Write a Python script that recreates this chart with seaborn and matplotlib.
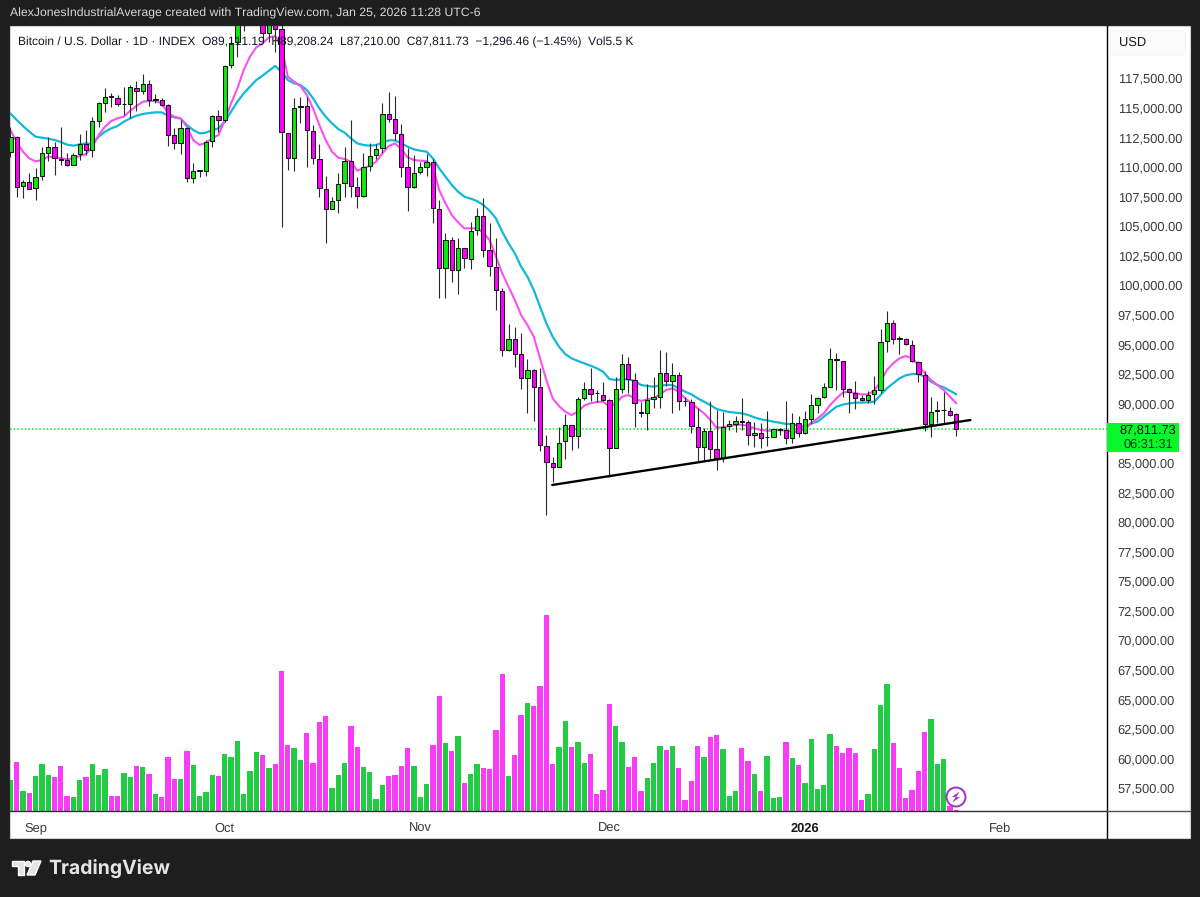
import seaborn as sns
import matplotlib.pyplot as plt
import matplotlib.patches as mpatches
from matplotlib.lines import Line2D
import numpy as np
import pandas as pd

# daily candles (bar 0 is 28 Aug 2025)
opens = [
    111220, 112490, 108340, 108680, 108180, 109190, 111190, 111700, 110650, 110570,
    110180, 111050, 111920, 111410, 113870, 115420, 115950, 115810, 115270, 115300,
    116680, 116400, 116990, 115670, 115640, 115190, 112650, 111980, 113270, 109020,
    109640, 109640, 112150, 114290, 113950, 118570, 120570, 122200, 122400, 123500,
    124700, 121330, 123300, 121610, 112880, 110710, 115050, 115160, 113020, 110680,
    108120, 106430, 107190, 108630, 110490, 108290, 107530, 110040, 110960, 111560,
    114430, 114010, 112800, 109980, 108260, 109530, 110010, 110430, 106460, 101420,
    103780, 101250, 103160, 102230, 104630, 105870, 102940, 101560, 99530, 94490,
    95420, 94150, 92120, 92850, 91360, 86430, 84990, 84630, 86800, 88210, 87250,
    90430, 91190, 90910, 90710, 90260, 86260, 91220, 93330, 91980, 89280, 89160,
    90350, 90520, 92600, 91920, 92400, 90230, 90120, 88040, 86350, 87700, 86120,
    85390, 88070, 88260, 88520, 88430, 87360, 87470, 87140, 87190, 87780, 87760,
    87050, 88320, 87470, 88680, 89870, 90520, 91420, 93730, 93590, 91190, 90910,
    90490, 90290, 90770, 91110, 95250, 96800, 95530, 95420, 94970, 93500, 92430,
    88230, 89360, 89420, 89390, 89111.19,
]
highs = [
    113390, 112600, 108880, 109440, 109870, 111700, 112490, 112120, 113330, 111130,
    111130, 112770, 113110, 114230, 115500, 116630, 116260, 116060, 116710, 116910,
    117250, 117840, 117330, 116120, 115780, 115300, 113250, 113950, 113390, 110290,
    109700, 112260, 114370, 114800, 118600, 120710, 122800, 122800, 125400, 126200,
    125000, 124100, 123700, 121980, 112880, 115780, 115920, 115920, 113530, 111920,
    109250, 107420, 109440, 111640, 113950, 109110, 111190, 112040, 111920, 115360,
    116290, 115980, 113580, 111560, 110990, 110430, 111080, 110630, 107190, 104430,
    104090, 103950, 103160, 105300, 106490, 107330, 105220, 103950, 99730, 96680,
    96490, 95920, 93720, 92910, 92960, 87330, 85500, 88030, 89100, 88210, 90520,
    91780, 93020, 91140, 91840, 90350, 92210, 94150, 93950, 92600, 90120, 91640,
    92210, 94520, 94380, 93450, 92690, 90570, 90350, 89590, 87900, 90210, 89450,
    89300, 88600, 88970, 90430, 88600, 88460, 88380, 89390, 87870, 87950, 90230,
    89220, 88970, 89360, 90800, 90570, 91700, 94660, 94290, 93590, 91280, 91900,
    90710, 91080, 92320, 96320, 97810, 97050, 95700, 95500, 95360, 93590, 92770,
    90570, 90210, 90990, 89730, 89208.24,
]
lows = [
    110850, 107470, 107330, 108090, 107190, 108880, 110510, 109300, 110150, 110090,
    110150, 110570, 110990, 110850, 113390, 114650, 115080, 115130, 114370, 114090,
    114710, 116120, 115130, 115360, 115130, 111750, 111470, 111080, 108740, 108650,
    109110, 109220, 111700, 112960, 113810, 118320, 119300, 121500, 122200, 123100,
    120650, 120570, 119670, 104940, 109730, 109670, 113670, 109950, 110230, 107470,
    103530, 106400, 106120, 107470, 107420, 106490, 107470, 109670, 110660, 111190,
    113750, 112260, 109160, 106290, 108230, 109360, 109220, 105270, 98880, 98910,
    100230, 99220, 101420, 101360, 104230, 102400, 100770, 97890, 94030, 94430,
    93050, 91220, 89220, 88540, 85980, 80570, 83390, 84600, 85270, 86070, 86260,
    90290, 90210, 90150, 90230, 83810, 86210, 90850, 90850, 88040, 88880, 87760,
    89590, 89590, 91500, 89220, 89450, 89780, 87530, 85080, 85220, 85220, 84380,
    85080, 87760, 87560, 87760, 86490, 86290, 86210, 86400, 87140, 87330, 86570,
    86680, 87140, 87390, 88260, 89220, 90430, 91360, 91140, 90520, 89160, 89500,
    90230, 90010, 89920, 90850, 94380, 95020, 94150, 94940, 93470, 91840, 87700,
    87140, 88370, 88370, 88940, 87210.00,
]
closes = [
    112490, 108320, 108740, 108150, 109160, 111130, 111700, 110710, 110570, 110150,
    111020, 111920, 111410, 113840, 115360, 115920, 115890, 115300, 115330, 116710,
    116400, 116990, 115640, 115730, 115250, 112680, 111980, 113250, 109020, 109610,
    109700, 112090, 114290, 113950, 118510, 120490, 122200, 122400, 123500, 124700,
    121330, 123300, 121610, 112910, 110710, 114990, 115130, 113080, 110710, 108180,
    106430, 107130, 108570, 110490, 108350, 107530, 109980, 110940, 111530, 114430,
    114040, 112850, 110010, 108290, 109500, 109980, 110430, 106540, 101420, 103780,
    101270, 103160, 102260, 104600, 105870, 102960, 101580, 99610, 94510, 95420,
    94200, 92120, 92850, 91410, 86490, 85050, 84630, 86680, 88180, 87250, 90400,
    91190, 90830, 90850, 90290, 86260, 91190, 93330, 92070, 90070, 89190, 90290,
    90520, 92570, 91920, 92400, 90180, 90180, 88070, 86350, 87700, 86150, 85420,
    87980, 88230, 88540, 88460, 87330, 87470, 87110, 87190, 87840, 87840, 87050,
    88320, 87470, 88660, 89840, 90460, 91360, 93760, 93640, 91190, 90940, 90460,
    90320, 90740, 91110, 95220, 96800, 95470, 95470, 94990, 93560, 92490, 88230,
    89280, 89420, 89470, 88990, 87811.73,
]

# EMA lines over the candles, read bar by bar
ema_fast = [
    113105, 112119, 111274, 110710, 110457, 110569, 110851, 110795, 110738, 110626,
    110710, 110907, 111076, 111696, 112682, 113386, 113865, 114091, 114231, 114739,
    115133, 115499, 115555, 115555, 115358, 114513, 114231, 114091, 113386, 112260,
    111837, 112034, 112400, 112682, 113950, 115358, 116626, 118175, 119302, 120091,
    120429, 120936, 121049, 120147, 117612, 117190, 116824, 116063, 114936, 113528,
    112260, 111274, 110767, 110655, 110429, 109669, 109866, 110091, 110429, 111133,
    111753, 111978, 111471, 110795, 110570, 110514, 110485, 110007, 108035, 106908,
    105922, 105302, 104795, 104795, 104795, 104429, 103809, 102401, 100992, 99865,
    98739, 97471, 96626, 95640, 93809, 91978, 90428, 89781, 89302, 89023, 89304,
    89812, 90009, 90121, 90150, 89727, 90009, 90572, 90713, 90431, 90206, 90347,
    90431, 90769, 91135, 91276, 90995, 90431, 90009, 89586, 89164, 88600, 87952,
    87980, 88093, 88178, 88206, 88093, 87896, 87755, 87699, 87699, 87755, 87699,
    87614, 87614, 87811, 88318, 88741, 89163, 89867, 90431, 90910, 90994, 90853,
    90769, 90769, 91079, 91839, 92825, 93389, 93811, 94008, 93811, 93248, 92543,
    91980, 91558, 91135, 90572, 90008,
]
ema_slow = [
    114513, 113950, 113443, 112964, 112541, 112457, 112372, 112260, 112091, 111865,
    111781, 111893, 111978, 111922, 112541, 112964, 113246, 113443, 113809, 114091,
    114316, 114457, 114541, 114598, 114598, 114316, 114175, 114062, 113527, 113105,
    112823, 112879, 113105, 113246, 113809, 114654, 115499, 116203, 116767, 117330,
    117696, 118119, 118513, 118034, 117331, 117049, 116908, 116486, 115781, 114936,
    114232, 113669, 113190, 112880, 112401, 111978, 111838, 111781, 111838, 112035,
    112232, 112232, 111978, 111697, 111471, 111359, 111274, 110711, 109866, 109161,
    108457, 107894, 107471, 107302, 107105, 106767, 106288, 105640, 104513, 103527,
    102682, 101556, 100710, 99584, 98175, 96767, 95640, 94795, 94175, 93812, 93586,
    93389, 93192, 92967, 92685, 92065, 91981, 92037, 92037, 91896, 91558, 91474,
    91417, 91502, 91558, 91558, 91276, 90995, 90769, 90431, 90150, 89868, 89530,
    89389, 89276, 89220, 89164, 89023, 88825, 88657, 88572, 88459, 88375, 88262,
    88262, 88093, 88036, 88318, 88459, 88881, 89304, 89727, 89896, 90008, 90065,
    90065, 90093, 90149, 90712, 91276, 91698, 92121, 92375, 92487, 92487, 92262,
    91839, 91558, 91360, 91079, 90769,
]

# volume in thousands
volumes = [
    138, 219, 92, 83, 159, 212, 162, 153, 204, 68, 62, 140, 152, 210, 162, 190, 69, 68,
    172, 154, 201, 196, 165, 78, 63, 243, 142, 142, 270, 206, 66, 87, 162, 156, 258, 243,
    316, 78, 178, 266, 250, 192, 213, 632, 298, 284, 230, 350, 218, 400, 426, 105, 162,
    218, 381, 288, 200, 177, 52, 116, 156, 160, 201, 284, 201, 63, 120, 298, 518, 306,
    268, 338, 128, 166, 210, 194, 190, 363, 615, 159, 254, 430, 486, 471, 561, 882, 213,
    288, 406, 288, 312, 218, 255, 78, 96, 480, 381, 312, 198, 244, 90, 147, 218, 294,
    273, 291, 195, 51, 136, 292, 244, 333, 344, 278, 66, 90, 282, 224, 165, 90, 249, 58,
    63, 312, 240, 206, 124, 324, 99, 117, 348, 292, 260, 282, 260, 51, 75, 279, 477, 573,
    308, 195, 57, 93, 178, 354, 414, 213, 236, 21, 5.5,
]

# the 87,500 label is hidden behind the last price tag
price_ticks = [p for p in range(57500, 120000, 2500) if p != 87500]
month_bars = [4, 34, 65, 95, 126, 157]
month_labels = ["Sep", "Oct", "Nov", "Dec", "2026", "Feb"]
trend_bars = [85.93, 152.25]
trend_prices = [83110, 88600]
last_price = 87811.73

UP = "#10e810"
DOWN = "#ff00ff"
VOL_UP = "#22cc44"
VOL_DOWN = "#f83cf8"
DARK = "#1e1e1e"
TXT = "#3a3a3a"

W, H = 1200, 897


def px_box(x0, y0, x1, y1):
    # pixel box (y from the top) to figure fractions
    return [x0 / W, 1 - y1 / H, (x1 - x0) / W, (y1 - y0) / H]


df = pd.DataFrame({"open": opens, "high": highs, "low": lows, "close": closes,
                   "volume": volumes, "fast": ema_fast, "slow": ema_slow})
df["bar"] = np.arange(len(df))
df["side"] = np.where(df["close"] >= df["open"], "up", "down")

sns.set_theme(style="white")
plt.rcParams["font.family"] = ["Liberation Sans", "DejaVu Sans"]
plt.rcParams["text.hinting"] = "no_hinting"
plt.rcParams["text.kerning_factor"] = 6

fig = plt.figure(figsize=(W / 100, H / 100), dpi=100, facecolor=DARK)

# white panel behind everything
fig.patches.append(mpatches.Rectangle((10 / W, 1 - 838 / H), 1180 / W, 812 / H, transform=fig.transFigure,
                                      facecolor="white", edgecolor="#d0d0d0", lw=0.8, zorder=-1))

xlim = (-0.06, 173.83)
ylim = (55561, 121894)

ax_vol = fig.add_axes(px_box(10, 26, 1106.5, 811), facecolor="none")
sns.barplot(data=df, x="bar", y="volume", hue="side", palette={"up": VOL_UP, "down": VOL_DOWN},
            hue_order=["up", "down"], dodge=False, native_scale=True, width=0.84, saturation=1,
            errorbar=None, legend=False, ax=ax_vol)
# seaborn leaves these too thin on the numeric scale
for rect in ax_vol.patches:
    mid = rect.get_x() + rect.get_width() / 2
    rect.set_width(0.84)
    rect.set_x(mid - 0.42)
    rect.set_linewidth(0)
ax_vol.set_xlim(*xlim)
ax_vol.set_ylim(0, 3532)
ax_vol.axis("off")

ax = fig.add_axes(px_box(10, 26, 1106.5, 811), facecolor="none")
sns.lineplot(data=df, x="bar", y="slow", color="#12b8d8", lw=1.6, ax=ax, zorder=2)
sns.lineplot(data=df, x="bar", y="fast", color="#fb50f0", lw=1.5, ax=ax, zorder=2.1)

ax.vlines(df["bar"], df["low"], df["high"], color="#2a2a2a", lw=0.8, zorder=3)
body_bottom = df[["open", "close"]].min(axis=1)
body_height = (df["close"] - df["open"]).abs()
ax.bar(df["bar"], body_height, bottom=body_bottom, width=0.68,
       color=df["side"].map({"up": UP, "down": DOWN}), edgecolor="#161616", lw=0.75, zorder=4)

ax.axhline(last_price, color="#00ec20", lw=1.1, ls=(0, (1, 1.4)), zorder=1.5)
ax.plot(trend_bars, trend_prices, color="black", lw=1.7, solid_capstyle="round", zorder=5)

ax.set_xlim(*xlim)
ax.set_ylim(*ylim)
ax.set_xlabel("")
ax.set_ylabel("")
ax.yaxis.tick_right()
ax.set_yticks(price_ticks)
ax.set_yticklabels([f"{p:,.2f}" for p in price_ticks], fontsize=9.3, color=TXT)
ax.set_xticks(month_bars)
ax.set_xticklabels(month_labels, fontsize=9.3, color=TXT)
ax.tick_params(axis="both", length=0)
ax.tick_params(axis="y", pad=8)
ax.tick_params(axis="x", pad=8)
ax.get_xticklabels()[4].set_fontweight("bold")
ax.get_xticklabels()[4].set_color("#1a1a1a")
for side in ["top", "left"]:
    ax.spines[side].set_visible(False)
ax.spines["right"].set_color("black")
ax.spines["right"].set_linewidth(1)
ax.spines["bottom"].set_color("#303030")
ax.spines["bottom"].set_linewidth(1)

# axis rules that run past the plot area
fig.add_artist(Line2D([1106.5 / W] * 2, [1 - 811 / H, 1 - 838 / H], color="black", lw=1))
fig.add_artist(Line2D([1106.5 / W, 1190 / W], [1 - 811 / H] * 2, color="#505050", lw=1))

# last price tag
fig.add_artist(mpatches.FancyBboxPatch((1107 / W, 1 - 452 / H), 72 / W, 29 / H, boxstyle="square,pad=0",
                                       transform=fig.transFigure, facecolor="#08f82c", edgecolor="none", zorder=6))
fig.text(1148 / W, 1 - 430 / H, "87,811.73", fontsize=9.2, color="#0a0a0a", ha="center", va="center", zorder=7)
fig.text(1148 / W, 1 - 444.5 / H, "06:31:31", fontsize=9.2, color="#0a3a10", ha="center", va="center", zorder=7)

# USD button
fig.add_artist(mpatches.FancyBboxPatch((1111 / W, 1 - 55 / H), 74 / W, 24 / H, boxstyle="round,pad=0,rounding_size=0.003",
                                       transform=fig.transFigure, facecolor="#fbfbfb", edgecolor="#f2f2f2", lw=0.6))
fig.text(1119 / W, 1 - 43 / H, "USD", fontsize=9.3, color="#1a1a1a", va="center")

# header texts
fig.text(10 / W, 1 - 13 / H, "AlexJonesIndustrialAverage created with TradingView.com, Jan 25, 2026 11:28 UTC-6",
         fontsize=8.8, color="#d8d8d8", va="center")
fig.text(18 / W, 1 - 42 / H,
         "Bitcoin / U.S. Dollar · 1D · INDEX  O89,111.19  H89,208.24  L87,210.00  C87,811.73  −1,296.46 (−1.45%)  Vol5.5 K",
         fontsize=8.65, color="#131722", va="center", zorder=8)

# lightning marker on the last bars
ax_mark = fig.add_axes(px_box(945, 786, 967, 808), facecolor="none")
ax_mark.set_xlim(-1.1, 1.1)
ax_mark.set_ylim(-1.1, 1.1)
ax_mark.set_aspect("equal")
ax_mark.axis("off")
ax_mark.add_patch(plt.Circle((0, 0), 0.95, facecolor="white", edgecolor="#a030c8", lw=1.4))
ax_mark.add_patch(plt.Polygon([(0.35, 0.55), (-0.45, -0.02), (-0.02, 0.02), (-0.35, -0.55), (0.45, 0.02), (0.02, -0.02)],
                              closed=True, facecolor="#a030c8", edgecolor="none"))

# TradingView wordmark
ax_logo = fig.add_axes(px_box(10, 858, 42, 878), facecolor="none")
ax_logo.set_xlim(0, 32)
ax_logo.set_ylim(20, 0)
ax_logo.axis("off")
logo_col = "#e4e4e4"
ax_logo.add_patch(plt.Polygon([(2, 3), (14, 3), (14, 17), (8, 17), (8, 8), (2, 8)], closed=True, facecolor=logo_col))
ax_logo.add_patch(plt.Circle((18, 6), 2.6, facecolor=logo_col))
ax_logo.add_patch(plt.Polygon([(23, 3), (31, 3), (25, 17), (17, 17)], closed=True, facecolor=logo_col))
fig.text(48 / W, 1 - 868 / H, "TradingView", fontsize=14, fontweight="bold", family="Inter", color=logo_col, va="center")

fig.savefig("out.png", dpi=100, facecolor=DARK)
